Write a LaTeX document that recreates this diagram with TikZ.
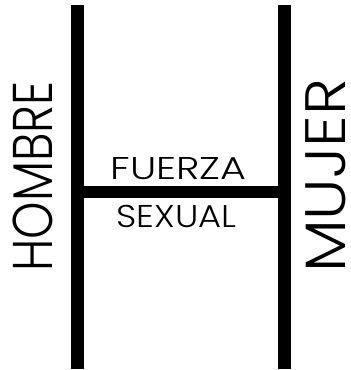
\documentclass[tikz,border=0pt]{standalone}
\usepackage{fontspec}
\setmainfont{Poppins}[UprightFont=* Light]
\newfontfamily\hombrefont{Poppins}[UprightFont=* Light, FakeStretch=0.85]
\newfontfamily\mujerfont{Poppins}[UprightFont=* Light, FakeStretch=1.1]
\newfontfamily\fuerzafont{Poppins}[UprightFont=* Light, FakeStretch=1.26]
\newfontfamily\sexualfont{Poppins}[UprightFont=* Light, FakeStretch=1.12]
\usetikzlibrary{positioning}

\begin{document}
\begin{tikzpicture}[
    x=1pt, y=1pt,
    bar/.style={line width=13pt, black},
    side/.style={anchor=base, rotate=90, inner sep=0pt},
    middle/.style={anchor=base, inner sep=0pt}
]
    \useasboundingbox (0,0) rectangle (351,370);

    % Bars
    \coordinate (lefttop) at (77,365);
    \coordinate (leftbottom) at (77,1);
    \coordinate (righttop) at (284,365);
    \coordinate (rightbottom) at (284,1);
    \coordinate (crossleft) at (77,177.5);
    \coordinate (crossright) at (284,177.5);

    \draw[bar] (lefttop) -- (leftbottom);
    \draw[bar] (righttop) -- (rightbottom);
    \draw[bar, line width=12pt] (crossleft) -- (crossright);

    % Labels
    \node[side, font=\hombrefont\fontsize{56}{56}\selectfont] (hombre) at (52,193.5) {HOMBRE};
    \node[side, font=\mujerfont\fontsize{57}{57}\selectfont] (mujer) at (345,194) {MUJER};
    \node[middle, font=\fuerzafont\fontsize{31.5}{31.5}\selectfont] (fuerza) at (178.5,190) {FUERZA};
    \node[middle, font=\sexualfont\fontsize{31.5}{31.5}\selectfont] (sexual) at (176.5,142) {SEXUAL};

\end{tikzpicture}
\end{document}
